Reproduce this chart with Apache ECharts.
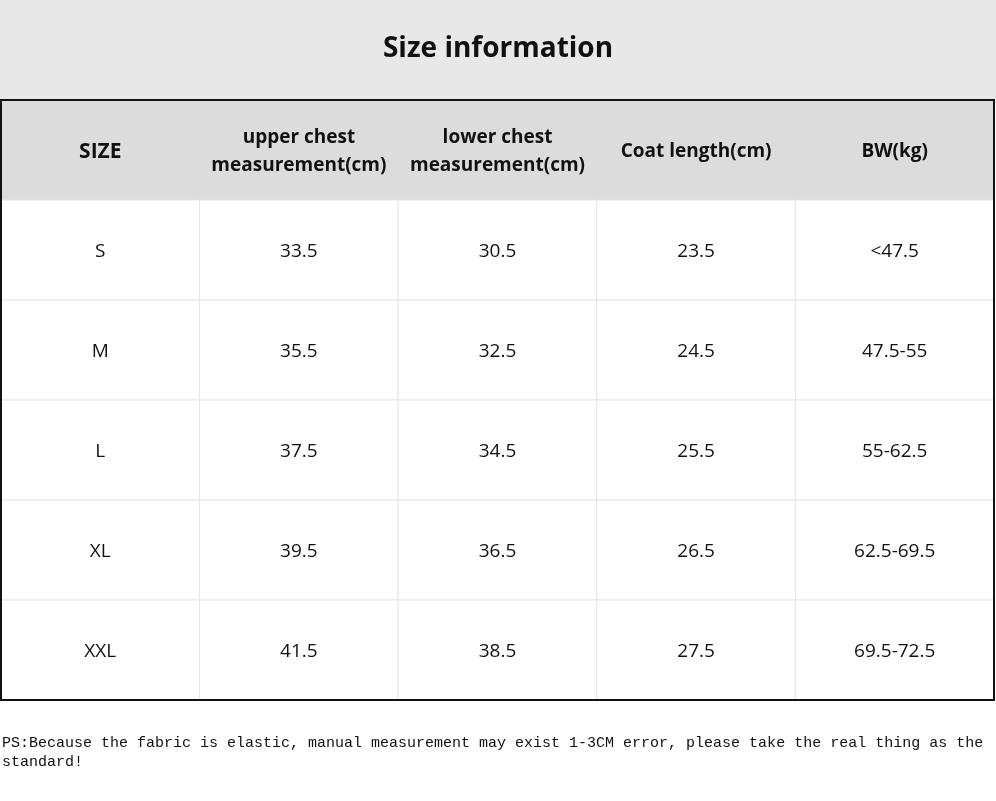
<!DOCTYPE html>
<html><head><meta charset="utf-8">
<script src="https://cdn.jsdelivr.net/npm/echarts@6/dist/echarts.min.js"></script>
<style>html,body{margin:0;padding:0;background:#fff}#c{width:996px;height:801px}</style>
</head><body><div id="c"></div>
<script>
const title = "Size information";
const headers = ["SIZE", "upper chest\nmeasurement(cm)", "lower chest\nmeasurement(cm)", "Coat length(cm)", "BW(kg)"];
const sizes = ["S", "M", "L", "XL", "XXL"];
const upperChest = ["33.5", "35.5", "37.5", "39.5", "41.5"];
const lowerChest = ["30.5", "32.5", "34.5", "36.5", "38.5"];
const coatLength = ["23.5", "24.5", "25.5", "26.5", "27.5"];
const bodyWeight = ["<47.5", "47.5-55", "55-62.5", "62.5-69.5", "69.5-72.5"];
const note = "PS:Because the fabric is elastic, manual measurement may exist 1-3CM error, please take the real thing as the\nstandard!";

const columns = [sizes, upperChest, lowerChest, coatLength, bodyWeight];
const rowCats = ["h", ...sizes];
const cells = [];
for (let c = 0; c < 5; c++) {
  cells.push({value: [c, 0], text: headers[c], header: true});
  for (let r = 0; r < sizes.length; r++) cells.push({value: [c, r + 1], text: columns[c][r], header: false});
}
const chart = echarts.init(document.getElementById('c'));
chart.setOption({
  animation: false,
  graphic: [
    {type: 'rect', shape: {x: 0, y: 0, width: 996, height: 100}, style: {fill: '#e8e8e8'}},
    {type: 'text', left: 'center', top: 35, style: {text: title, font: 'bold 28px "Open Sans", sans-serif', fill: '#111'}},
    {type: 'text', left: 2, top: 734, style: {text: note, font: '15px "Liberation Mono", monospace', fill: '#111', lineHeight: 19}}
  ],
  grid: {left: 1, right: 2, top: 100, bottom: 101, show: true, borderColor: '#111', borderWidth: 2, backgroundColor: 'transparent', z: 10},
  xAxis: {type: 'category', data: headers, show: false},
  yAxis: {type: 'category', data: rowCats, inverse: true, show: false},
  series: [{
    type: 'custom',
    data: cells,
    renderItem: function (params, api) {
      const c = api.value(0), r = api.value(1);
      const p = api.coord([c, r]);
      const s = api.size([1, 1]);
      const item = cells[params.dataIndex];
      const fs = item.header ? (c === 0 ? 21 : 19) : 19;
      return {
        type: 'group',
        children: [
          {type: 'rect', shape: {x: p[0] - s[0] / 2, y: p[1] - s[1] / 2, width: s[0], height: s[1]},
           style: {fill: item.header ? '#dcdcdc' : '#fff', stroke: item.header ? '#dcdcdc' : '#e6e6e6', lineWidth: 1}},
          {type: 'text', x: p[0], y: p[1] + 2,
           style: {text: item.text, align: 'center', verticalAlign: 'middle',
                   font: (item.header ? 'bold ' : '') + fs + 'px "Open Sans", sans-serif',
                   lineHeight: 28, fill: '#111'}}
        ]
      };
    }
  }]
});
</script></body></html>
